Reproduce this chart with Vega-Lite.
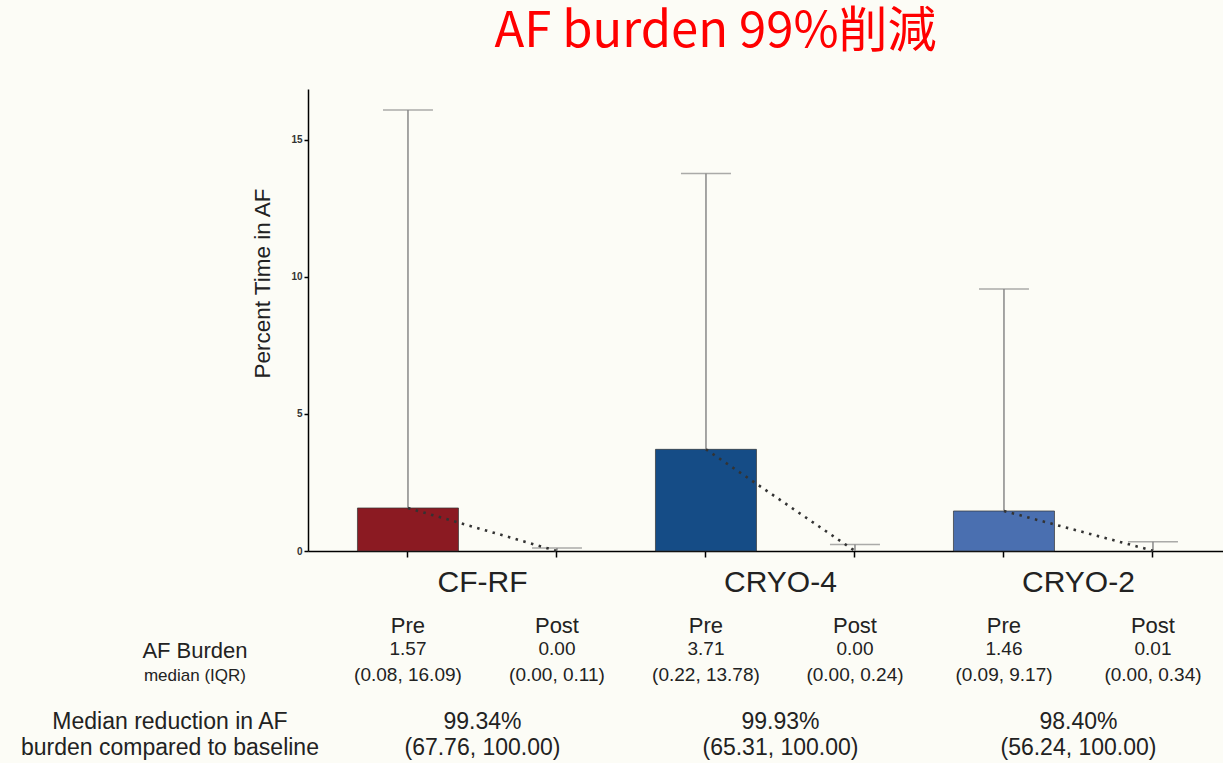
{
  "$schema": "https://vega.github.io/schema/vega-lite/v6.json",
  "width": 915,
  "height": 462,
  "autosize": {"type": "none"},
  "padding": {"left": 308, "top": 89, "right": 0, "bottom": 212},
  "background": "#fcfcf6",
  "title": {
    "text": "AF burden 99%削減",
    "color": "#ff0000",
    "font": "Noto Sans CJK JP",
    "fontSize": 49,
    "fontWeight": "normal",
    "anchor": "middle",
    "frame": "group",
    "dx": -50,
    "offset": -7,
    "baseline": "alphabetic"
  },
  "config": {
    "view": {"stroke": null},
    "font": "Liberation Sans",
    "text": {"font": "Liberation Sans", "color": "#222222"}
  },
  "datasets": {
    "arms": [
      {"cat": "CF-RF|Pre", "group": "CF-RF", "phase": "Pre", "median": 1.57, "upper": 16.09, "medianText": "1.57", "iqr": "(0.08, 16.09)"},
      {"cat": "CF-RF|Post", "group": "CF-RF", "phase": "Post", "median": 0.0, "upper": 0.11, "medianText": "0.00", "iqr": "(0.00, 0.11)"},
      {"cat": "CRYO-4|Pre", "group": "CRYO-4", "phase": "Pre", "median": 3.71, "upper": 13.78, "medianText": "3.71", "iqr": "(0.22, 13.78)"},
      {"cat": "CRYO-4|Post", "group": "CRYO-4", "phase": "Post", "median": 0.0, "upper": 0.24, "medianText": "0.00", "iqr": "(0.00, 0.24)"},
      {"cat": "CRYO-2|Pre", "group": "CRYO-2", "phase": "Pre", "median": 1.46, "upper": 9.56, "medianText": "1.46", "iqr": "(0.09, 9.17)"},
      {"cat": "CRYO-2|Post", "group": "CRYO-2", "phase": "Post", "median": 0.01, "upper": 0.34, "medianText": "0.01", "iqr": "(0.00, 0.34)"}
    ],
    "groups": [
      {"cat": "CF-RF|Pre", "group": "CF-RF", "reduction": "99.34%", "ci": "(67.76, 100.00)"},
      {"cat": "CRYO-4|Pre", "group": "CRYO-4", "reduction": "99.93%", "ci": "(65.31, 100.00)"},
      {"cat": "CRYO-2|Pre", "group": "CRYO-2", "reduction": "98.40%", "ci": "(56.24, 100.00)"}
    ]
  },
  "layer": [
    {
      "data": {"name": "arms"},
      "transform": [{"filter": "datum.phase === 'Pre'"}],
      "mark": {"type": "bar", "stroke": "#333333", "strokeOpacity": 0.7, "strokeWidth": 1},
      "encoding": {
        "x": {
          "field": "cat", "type": "nominal",
          "scale": {
            "domain": ["CF-RF|Pre", "CF-RF|Post", "CRYO-4|Pre", "CRYO-4|Post", "CRYO-2|Pre", "CRYO-2|Post"],
            "paddingInner": 0.322, "paddingOuter": 0.2315, "align": 0.717
          },
          "axis": {"labels": false, "title": null, "tickSize": 6, "tickWidth": 1.5, "tickColor": "#000000", "domainColor": "#000000", "domainWidth": 1.5, "grid": false}
        },
        "y": {
          "field": "median", "type": "quantitative",
          "scale": {"domain": [0, 16.86], "nice": false, "zero": true},
          "axis": {
            "values": [0, 5, 10, 15], "grid": false,
            "labelFontSize": 10, "labelColor": "#333333", "labelFontWeight": "bold", "labelPadding": 2,
            "tickSize": 4, "tickWidth": 1.5, "tickColor": "#000000",
            "domainColor": "#000000", "domainWidth": 1.5,
            "title": "Percent Time in AF", "titleFont": "Liberation Sans", "titleFontSize": 22.5,
            "titleFontWeight": "normal", "titleColor": "#222222",
            "titleAngle": 270, "titleX": -46, "titleY": 194, "titleAlign": "center", "titleBaseline": "middle"
          }
        },
        "color": {
          "field": "group", "type": "nominal",
          "scale": {"domain": ["CF-RF", "CRYO-4", "CRYO-2"], "range": ["#8b1a22", "#154c86", "#4a6fb0"]},
          "legend": null
        }
      }
    },
    {
      "data": {"name": "arms"},
      "mark": {"type": "rule", "color": "#888888", "strokeWidth": 1.5},
      "encoding": {
        "x": {"field": "cat", "type": "nominal"},
        "y": {"field": "median", "type": "quantitative"},
        "y2": {"field": "upper"}
      }
    },
    {
      "data": {"name": "arms"},
      "mark": {"type": "tick", "color": "#888888", "thickness": 1.5, "size": 50, "orient": "horizontal"},
      "encoding": {
        "x": {"field": "cat", "type": "nominal"},
        "y": {"field": "upper", "type": "quantitative"}
      }
    },
    {
      "data": {"name": "arms"},
      "mark": {"type": "line", "color": "#333333", "strokeWidth": 2.6, "strokeDash": [2.5, 5.5]},
      "encoding": {
        "x": {"field": "cat", "type": "nominal"},
        "y": {"field": "median", "type": "quantitative"},
        "detail": {"field": "group"}
      }
    },
    {
      "data": {"name": "groups"},
      "mark": {"type": "text", "fontSize": 30, "dx": 74.5, "baseline": "middle", "align": "center"},
      "encoding": {
        "x": {"field": "cat", "type": "nominal"},
        "y": {"datum": -1.168, "type": "quantitative"},
        "text": {"field": "group"}
      }
    },
    {
      "data": {"name": "arms"},
      "mark": {"type": "text", "fontSize": 22, "baseline": "middle", "align": "center"},
      "encoding": {
        "x": {"field": "cat", "type": "nominal"},
        "y": {"datum": -2.737, "type": "quantitative"},
        "text": {"field": "phase"}
      }
    },
    {
      "data": {"name": "arms"},
      "mark": {"type": "text", "fontSize": 19, "baseline": "middle", "align": "center"},
      "encoding": {
        "x": {"field": "cat", "type": "nominal"},
        "y": {"datum": -3.58, "type": "quantitative"},
        "text": {"field": "medianText"}
      }
    },
    {
      "data": {"name": "arms"},
      "mark": {"type": "text", "fontSize": 19, "baseline": "middle", "align": "center"},
      "encoding": {
        "x": {"field": "cat", "type": "nominal"},
        "y": {"datum": -4.52, "type": "quantitative"},
        "text": {"field": "iqr"}
      }
    },
    {
      "data": {"name": "groups"},
      "mark": {"type": "text", "fontSize": 23, "dx": 74.5, "baseline": "middle", "align": "center"},
      "encoding": {
        "x": {"field": "cat", "type": "nominal"},
        "y": {"datum": -6.241, "type": "quantitative"},
        "text": {"field": "reduction"}
      }
    },
    {
      "data": {"name": "groups"},
      "mark": {"type": "text", "fontSize": 23, "dx": 74.5, "baseline": "middle", "align": "center"},
      "encoding": {
        "x": {"field": "cat", "type": "nominal"},
        "y": {"datum": -7.19, "type": "quantitative"},
        "text": {"field": "ci"}
      }
    },
    {
      "data": {"values": [{"label": "AF Burden"}]},
      "mark": {"type": "text", "fontSize": 22, "dx": -213, "baseline": "middle", "align": "center"},
      "encoding": {
        "x": {"datum": "CF-RF|Pre", "type": "nominal"},
        "y": {"datum": -3.65, "type": "quantitative"},
        "text": {"field": "label"}
      }
    },
    {
      "data": {"values": [{"label": "median (IQR)"}]},
      "mark": {"type": "text", "fontSize": 17, "dx": -213, "baseline": "middle", "align": "center"},
      "encoding": {
        "x": {"datum": "CF-RF|Pre", "type": "nominal"},
        "y": {"datum": -4.562, "type": "quantitative"},
        "text": {"field": "label"}
      }
    },
    {
      "data": {"values": [{"label": "Median reduction in AF"}]},
      "mark": {"type": "text", "fontSize": 23, "dx": -238, "baseline": "middle", "align": "center"},
      "encoding": {
        "x": {"datum": "CF-RF|Pre", "type": "nominal"},
        "y": {"datum": -6.241, "type": "quantitative"},
        "text": {"field": "label"}
      }
    },
    {
      "data": {"values": [{"label": "burden compared to baseline"}]},
      "mark": {"type": "text", "fontSize": 23, "dx": -238, "baseline": "middle", "align": "center"},
      "encoding": {
        "x": {"datum": "CF-RF|Pre", "type": "nominal"},
        "y": {"datum": -7.19, "type": "quantitative"},
        "text": {"field": "label"}
      }
    }
  ]
}
